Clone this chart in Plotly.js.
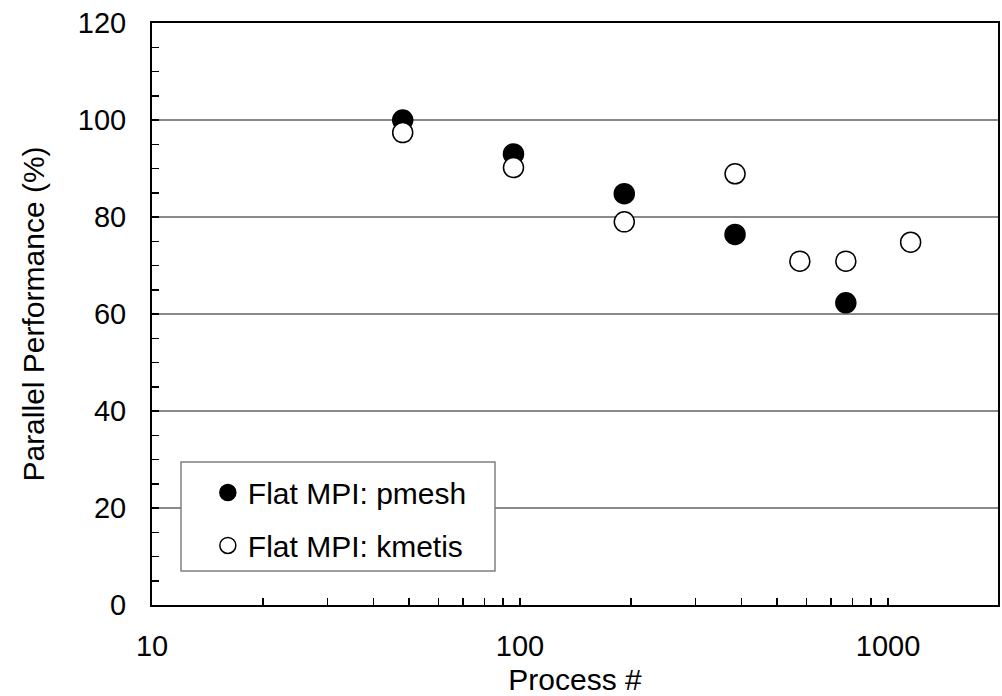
<!DOCTYPE html>
<html>
<head>
<meta charset="utf-8">
<script src="https://cdn.plot.ly/plotly-3.0.1.min.js"></script>
<style>html,body{margin:0;padding:0;background:#fff;}#chart{width:1002px;height:696px;}</style>
</head>
<body>
<div id="chart"></div>
<script>
// Data
const pmeshProcesses = [48, 96, 192, 384, 768];
const pmeshPerformance = [100, 93, 84.8, 76.4, 62.3];
const kmetisProcesses = [48, 96, 192, 384, 576, 768, 1152];
const kmetisPerformance = [97.4, 90.2, 79.0, 88.9, 70.9, 70.9, 74.8];
const seriesNames = ['Flat MPI: pmesh', 'Flat MPI: kmetis'];
const xTickValues = [10,20,30,40,50,60,70,80,90,100,200,300,400,500,600,700,800,900,1000,2000];
const xTickLabels = ['10','','','','','','','','','100','','','','','','','','','1000',''];
const axisTitles = {x: 'Process #', y: 'Parallel Performance (%)'};

const FONT = 'Liberation Sans, Arial, sans-serif';

const traces = [
  {
    x: pmeshProcesses, y: pmeshPerformance, name: seriesNames[0],
    type: 'scatter', mode: 'markers', legendgroup: 'a',
    marker: {symbol: 'circle', size: 20, color: '#000', line: {color: '#000', width: 1.5}}
  },
  {
    x: kmetisProcesses, y: kmetisPerformance, name: seriesNames[1],
    type: 'scatter', mode: 'markers', legendgroup: 'b',
    marker: {symbol: 'circle', size: 20, color: '#fff', line: {color: '#000', width: 1.5}}
  }
];

const layout = {
  width: 1002, height: 696,
  margin: {l: 152, r: 4, t: 23, b: 91},
  paper_bgcolor: '#fff', plot_bgcolor: '#fff',
  font: {family: FONT, size: 29, color: '#000'},
  showlegend: true,
  legend: {
    x: 0.066, y: 0.238, xanchor: 'left', yanchor: 'top',
    bgcolor: 'rgba(0,0,0,0)', borderwidth: 0,
    font: {family: FONT, size: 30, color: '#000'},
    tracegroupgap: 11, itemwidth: 30
  },
  shapes: [{
    type: 'rect', xref: 'paper', yref: 'paper', layer: 'above',
    x0: (181-152)/846, x1: (495-152)/846, y0: (605-571)/582, y1: (605-462)/582,
    fillcolor: '#fff', line: {color: '#808080', width: 1.5}
  }],
  xaxis: {
    type: 'log', range: [1, Math.log10(1990)],
    tickmode: 'array', tickvals: xTickValues, ticktext: xTickLabels,
    ticks: 'inside', ticklen: 7, tickwidth: 1.5, tickcolor: '#000',
    showgrid: false, zeroline: false,
    showline: true, linecolor: '#000', linewidth: 2, mirror: true,
    tickfont: {family: FONT, size: 29, color: '#000'},
    ticklabelstandoff: 14,
    title: {text: axisTitles.x, font: {family: FONT, size: 30, color: '#000'}, standoff: 11},
    automargin: false, fixedrange: true
  },
  yaxis: {
    range: [0, 120], dtick: 20, tick0: 0,
    ticks: 'inside', ticklen: 7, tickwidth: 1.5, tickcolor: '#000',
    minor: {dtick: 5, ticks: 'inside', ticklen: 7, tickwidth: 1.5, tickcolor: '#000', showgrid: false},
    showgrid: true, gridcolor: '#8a8a8a', gridwidth: 1.5,
    zeroline: false,
    showline: true, linecolor: '#000', linewidth: 2, mirror: true,
    tickfont: {family: FONT, size: 29, color: '#000'},
    ticklabelstandoff: 18,
    title: {text: axisTitles.y, font: {family: FONT, size: 30, color: '#000'}, standoff: 24},
    automargin: false, fixedrange: true
  }
};

Plotly.newPlot('chart', traces, layout, {displayModeBar: false, staticPlot: true});
</script>
</body>
</html>
